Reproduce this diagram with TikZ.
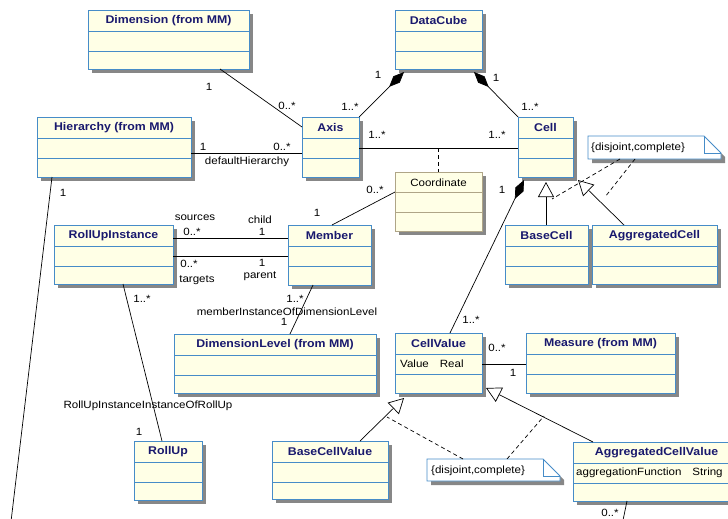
\documentclass[tikz,border=0pt]{standalone}
\usepackage{fontspec}
\setmainfont{Liberation Sans}
\newfontfamily\umlfont[FakeStretch=1.1]{Liberation Sans}
\usetikzlibrary{arrows.meta,shadows}
\definecolor{cream}{RGB}{255,255,230}
\definecolor{umlblue}{RGB}{70,140,200}
\definecolor{navy}{RGB}{25,25,110}
\definecolor{shade}{RGB}{135,135,135}
\definecolor{tanline}{RGB}{175,165,135}
\tikzset{
  boxshadow/.style={drop shadow={shadow xshift=4pt, shadow yshift=-4pt, fill=shade, opacity=1}},
  classbox/.style={draw=umlblue, fill=cream, line width=0.9pt, inner sep=0pt, outer sep=0pt, anchor=north west, boxshadow},
  divider/.style={draw=umlblue, line width=0.9pt},
  titletext/.style={font=\umlfont\bfseries\fontsize{11.2}{13}\selectfont, text=navy, inner sep=0pt},
  lbl/.style={font=\umlfont\fontsize{10.5}{12}\selectfont, inner sep=0pt},
  attr/.style={lbl, anchor=west},
  conn/.style={draw=black, line width=0.7pt},
  comp/.style={conn, {Diamond[length=21pt,width=9pt,fill=black]}-},
  gen/.style={conn, -{Triangle[length=15pt,width=16pt,fill=white]}},
  dashln/.style={conn, dash pattern=on 4pt off 3pt},
  notebg/.style={draw=umlblue, fill=white, line width=0.9pt, boxshadow},
  noteanchor/.style={inner sep=0pt, outer sep=0pt, anchor=north west},
}
\newcommand{\umlclass}[6]{%
  \node[classbox, minimum width={(#4-#2)*1pt}, minimum height={(#5-#3)*1pt}] (#1) at (#2,#3) {};
  \draw[divider] ([yshift=-21pt]#1.north west) -- ([yshift=-21pt]#1.north east);
  \draw[divider] ([yshift=-41pt]#1.north west) -- ([yshift=-41pt]#1.north east);
  \node[titletext] (#1-title) at ([yshift=-10.5pt]#1.north) {#6};
}
\newcommand{\umlnote}[5]{% name x1 y1 x2 y2
  \node[noteanchor, minimum width={(#4-#2)*1pt}, minimum height={(#5-#3)*1pt}] (#1) at (#2,#3) {};
  \path[notebg] (#1.north west) -- ([xshift=-17pt]#1.north east) -- ([yshift=-17pt]#1.north east)
     -- (#1.south east) -- (#1.south west) -- cycle;
  \draw[divider] ([xshift=-17pt]#1.north east) -- ([xshift=-17pt,yshift=-17pt]#1.north east) -- ([yshift=-17pt]#1.north east);
}
\begin{document}
\begin{tikzpicture}[x=1pt,y=-1pt]
\useasboundingbox (0,0) rectangle (728,519);

% classes
\umlclass{dim}{88}{10}{249}{69}{Dimension (from MM)}
\umlclass{datacube}{395}{10}{482}{69}{DataCube}
\umlclass{hier}{37}{117}{191}{177}{Hierarchy (from MM)}
\umlclass{axis}{302}{117}{359}{177}{Axis}
\umlclass{cell}{518}{117}{573}{177}{Cell}
\umlclass{rui}{54}{225}{173}{284}{RollUpInstance}
\umlclass{member}{288}{225}{371}{285}{Member}
\umlclass{basecell}{505}{225}{588}{284}{BaseCell}
\umlclass{aggcell}{592}{225}{717}{284}{AggregatedCell}
\umlclass{dimlevel}{174}{334}{376}{393}{DimensionLevel (from MM)}
\umlclass{cellvalue}{395}{333}{482}{393}{CellValue}
\umlclass{measure}{526}{333}{675}{393}{Measure (from MM)}
\umlclass{rollup}{134}{441}{202}{500}{RollUp}
\umlclass{bcv}{272}{441}{388}{499}{BaseCellValue}
\umlclass{acv}{573}{442}{740}{501}{AggregatedCellValue}

\node[attr] (cellvalue-attr) at ([xshift=5pt,yshift=-31pt]cellvalue.north west) {Value\hspace{11pt}Real};
\node[attr] (acv-attr) at ([xshift=3pt,yshift=-31pt]acv.north west) {aggregationFunction\hspace{11pt}String};

% Coordinate (association class)
\node[classbox, draw=tanline, minimum width=87pt, minimum height=59pt] (coord) at (395,172) {};
\draw[divider, draw=tanline] ([yshift=-20pt]coord.north west) -- ([yshift=-20pt]coord.north east);
\draw[divider, draw=tanline] ([yshift=-40pt]coord.north west) -- ([yshift=-40pt]coord.north east);
\node[lbl] (coord-title) at ([yshift=-11pt]coord.north) {Coordinate};

% notes
\umlnote{note1}{588}{136}{721}{159}
\node[attr] (note1-text) at ([xshift=3pt,yshift=-12pt]note1.north west) {\{disjoint,complete\}};
\umlnote{note2}{427}{459}{560}{481}
\node[attr] (note2-text) at ([xshift=4pt,yshift=-12pt]note2.north west) {\{disjoint,complete\}};

% free ends
\coordinate (amid) at (438.5,148);
\coordinate (hend) at (10,530);
\coordinate (acvend) at (621,530);
\coordinate (g1) at (552,199);
\coordinate (g2) at (605,197);
\coordinate (g3) at (387,417);
\coordinate (g4) at (544,416);

% connectors
\draw[conn] ([xshift=132pt]dim.south west) -- ([yshift=-10pt]axis.north west);
\draw[conn] ([yshift=-36pt]hier.north east) -- ([yshift=-36pt]axis.north west);
\draw[comp] ([xshift=9pt,yshift=-3pt]datacube.south west) -- (axis.north east);
\draw[comp] ([xshift=-8pt,yshift=-3pt]datacube.south east) -- (cell.north west);
\draw[conn] ([yshift=-31pt]axis.north east) -- ([yshift=-31pt]cell.north west);
\draw[dashln] (amid) -- (coord.north);
\draw[conn] ([yshift=-20pt]coord.north west) -- ([xshift=44pt]member.north west);
\draw[conn] ([yshift=-13pt]rui.north east) -- ([yshift=-13pt]member.north west);
\draw[conn] ([yshift=-31pt]rui.north east) -- ([yshift=-31pt]member.north west);
\draw[conn] ([xshift=25pt]member.south west) -- ([xshift=116pt]dimlevel.north west);
\draw[conn] ([xshift=69pt]rui.south west) -- ([xshift=28pt]rollup.north west);
\draw[conn] ([xshift=15pt]hier.south west) -- (hend);
\draw[comp] ([xshift=6pt,yshift=-3pt]cell.south west) -- ([xshift=55pt]cellvalue.north west);
\draw[gen] ([xshift=41pt]basecell.north west) -- ([xshift=28pt,yshift=-5pt]cell.south west);
\draw[gen] ([xshift=32pt]aggcell.north west) -- ([xshift=5pt,yshift=-3pt]cell.south east);
\draw[dashln] ([xshift=32pt]note1.south west) -- (g1);
\draw[dashln] ([xshift=47pt]note1.south west) -- (g2);
\draw[conn] ([yshift=-31pt]cellvalue.north east) -- ([yshift=-31pt]measure.north west);
\draw[gen] ([xshift=88pt]bcv.north west) -- ([xshift=9pt,yshift=-5pt]cellvalue.south west);
\draw[gen] ([xshift=20pt]acv.north west) -- ([xshift=4pt,yshift=5pt]cellvalue.south east);
\draw[dashln] ([xshift=36pt]note2.north west) -- (g3);
\draw[dashln] ([xshift=80pt]note2.north west) -- (g4);
\draw[conn] ([xshift=54pt]acv.south west) -- (acvend);

% labels
\node[lbl] (l1) at (209,87) {1};
\node[lbl] (l2) at (287,106) {0..*};
\node[lbl] (l3) at (203,147) {1};
\node[lbl] (l4) at (282,147) {0..*};
\node[lbl] (l5) at (247,162) {defaultHierarchy};
\node[lbl] (l6) at (378,75) {1};
\node[lbl] (l7) at (350,107) {1..*};
\node[lbl] (l8) at (496,78) {1};
\node[lbl] (l9) at (530,107) {1..*};
\node[lbl] (l10) at (377,135) {1..*};
\node[lbl] (l11) at (497,135) {1..*};
\node[lbl] (l12) at (375,190) {0..*};
\node[lbl] (l13) at (317,213) {1};
\node[lbl] (l14) at (195,218) {sources};
\node[lbl] (l15) at (192,232) {0..*};
\node[lbl] (l16) at (260,220) {child};
\node[lbl] (l17) at (262,232) {1};
\node[lbl] (l18) at (189,264) {0..*};
\node[lbl] (l19) at (197,280) {targets};
\node[lbl] (l20) at (262,263) {1};
\node[lbl] (l21) at (260,276) {parent};
\node[lbl] (l22) at (295,299) {1..*};
\node[lbl] (l23) at (287,312) {memberInstanceOfDimensionLevel};
\node[lbl] (l24) at (284,322) {1};
\node[lbl] (l25) at (142,299) {1..*};
\node[lbl] (l26) at (148,406) {RollUpInstanceInstanceOfRollUp};
\node[lbl] (l27) at (139,432) {1};
\node[lbl] (l28) at (63,193) {1};
\node[lbl] (l29) at (502,190) {1};
\node[lbl] (l30) at (471,320) {1..*};
\node[lbl] (l31) at (497,348) {0..*};
\node[lbl] (l32) at (513,373) {1};
\node[lbl] (l33) at (610,513) {0..*};
\end{tikzpicture}
\end{document}
